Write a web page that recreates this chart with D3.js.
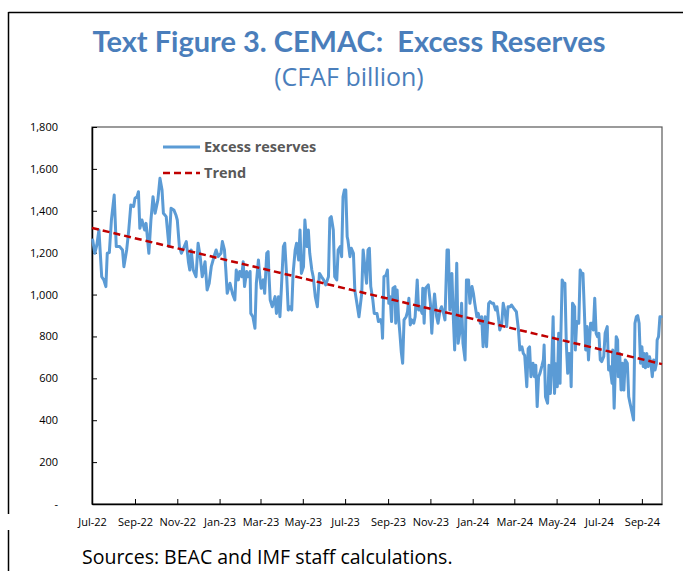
<!DOCTYPE html>
<html>
<head>
<meta charset="utf-8">
<script src="https://cdn.jsdelivr.net/npm/d3@7"></script>
<style>
  html, body { margin: 0; padding: 0; background: #fff; }
  svg { display: block; }
</style>
</head>
<body>
<div id="chart"></div>
<script>
// ---------- Data ----------
const dates = [
"2022-07-02","2022-07-05","2022-07-08","2022-07-11","2022-07-15","2022-07-18","2022-07-21","2022-07-23","2022-07-26","2022-07-29",
"2022-08-02","2022-08-05","2022-08-10","2022-08-14","2022-08-16","2022-08-20","2022-08-23","2022-08-26","2022-08-30","2022-09-01",
"2022-09-04","2022-09-06","2022-09-08","2022-09-11","2022-09-15","2022-09-17","2022-09-21","2022-09-24","2022-09-27","2022-09-30",
"2022-10-04","2022-10-07","2022-10-10","2022-10-12","2022-10-16","2022-10-20","2022-10-23","2022-10-27","2022-10-30","2022-11-01",
"2022-11-04","2022-11-07","2022-11-10","2022-11-14","2022-11-17","2022-11-19","2022-11-21","2022-11-24","2022-11-28","2022-12-01",
"2022-12-04","2022-12-07","2022-12-11","2022-12-14","2022-12-17","2022-12-20","2022-12-24","2022-12-27","2022-12-30","2023-01-03",
"2023-01-05","2023-01-08","2023-01-10","2023-01-12","2023-01-16","2023-01-20","2023-01-23","2023-01-25","2023-01-28","2023-01-30",
"2023-02-02","2023-02-04","2023-02-06","2023-02-09","2023-02-11","2023-02-14","2023-02-15","2023-02-18","2023-02-21","2023-02-23",
"2023-02-26","2023-02-28","2023-03-02","2023-03-05","2023-03-07","2023-03-10","2023-03-12","2023-03-13","2023-03-15","2023-03-18",
"2023-03-22","2023-03-24","2023-03-27","2023-03-29","2023-03-31","2023-04-03","2023-04-05","2023-04-08","2023-04-10","2023-04-12",
"2023-04-15","2023-04-17","2023-04-20","2023-04-22","2023-04-25","2023-04-27","2023-04-29","2023-05-02","2023-05-04","2023-05-07",
"2023-05-09","2023-05-11","2023-05-14","2023-05-16","2023-05-19","2023-05-22","2023-05-25","2023-05-28","2023-05-31","2023-06-03",
"2023-06-07","2023-06-09","2023-06-11","2023-06-14","2023-06-16","2023-06-19","2023-06-21","2023-06-24","2023-06-26","2023-06-28",
"2023-06-30","2023-07-02","2023-07-04","2023-07-05","2023-07-08","2023-07-10","2023-07-13","2023-07-15","2023-07-18","2023-07-21",
"2023-07-25","2023-07-27","2023-07-30","2023-08-01","2023-08-03","2023-08-05","2023-08-07","2023-08-10","2023-08-12","2023-08-16",
"2023-08-18","2023-08-21","2023-08-23","2023-08-24","2023-08-26","2023-08-29","2023-08-31","2023-09-02","2023-09-04","2023-09-06",
"2023-09-08","2023-09-11","2023-09-12","2023-09-14","2023-09-16","2023-09-18","2023-09-20","2023-09-22","2023-09-24","2023-09-27",
"2023-09-29","2023-10-01","2023-10-03","2023-10-05","2023-10-08","2023-10-10","2023-10-13","2023-10-15","2023-10-17","2023-10-20",
"2023-10-21","2023-10-23","2023-10-25","2023-10-27","2023-10-29","2023-11-01","2023-11-03","2023-11-05","2023-11-07","2023-11-10",
"2023-11-12","2023-11-15","2023-11-17","2023-11-20","2023-11-22","2023-11-25","2023-11-27","2023-11-29","2023-12-02","2023-12-04",
"2023-12-06","2023-12-09","2023-12-11","2023-12-14","2023-12-16","2023-12-18","2023-12-21","2023-12-23","2023-12-26","2023-12-28",
"2023-12-31","2024-01-02","2024-01-04","2024-01-07","2024-01-09","2024-01-12","2024-01-14","2024-01-16","2024-01-19","2024-01-21",
"2024-01-24","2024-01-26","2024-01-29","2024-01-31","2024-02-03","2024-02-05","2024-02-07","2024-02-09","2024-02-12","2024-02-14",
"2024-02-17","2024-02-19","2024-02-21","2024-02-24","2024-02-26","2024-02-29","2024-03-04","2024-03-07","2024-03-09","2024-03-12",
"2024-03-14","2024-03-16","2024-03-19","2024-03-21","2024-03-23","2024-03-25","2024-03-28","2024-03-30","2024-04-01","2024-04-03",
"2024-04-05","2024-04-07","2024-04-10","2024-04-12","2024-04-13","2024-04-15","2024-04-18","2024-04-20","2024-04-22","2024-04-24",
"2024-04-26","2024-04-28","2024-04-30","2024-05-02","2024-05-04","2024-05-06","2024-05-07","2024-05-09","2024-05-11","2024-05-13",
"2024-05-15","2024-05-17","2024-05-19","2024-05-21","2024-05-22","2024-05-24","2024-05-27","2024-05-28","2024-05-30","2024-06-02",
"2024-06-04","2024-06-06","2024-06-08","2024-06-10","2024-06-12","2024-06-14","2024-06-16","2024-06-19","2024-06-21","2024-06-23",
"2024-06-25","2024-06-27","2024-06-29","2024-07-01","2024-07-03","2024-07-05","2024-07-08","2024-07-10","2024-07-13","2024-07-15",
"2024-07-17","2024-07-20","2024-07-21","2024-07-23","2024-07-26","2024-07-28","2024-07-29","2024-07-31","2024-08-02","2024-08-04",
"2024-08-06","2024-08-08","2024-08-11","2024-08-13","2024-08-15","2024-08-18","2024-08-20","2024-08-22","2024-08-24","2024-08-26",
"2024-08-28","2024-08-30","2024-09-01","2024-09-03","2024-09-04","2024-09-06","2024-09-08","2024-09-10","2024-09-12","2024-09-14",
"2024-09-16","2024-09-18","2024-09-20","2024-09-22","2024-09-23","2024-09-25","2024-09-27","2024-09-29"
];
const excessReserves = [
1261,1197,1237,1308,1085,1070,1038,1197,1200,1356,
1475,1229,1229,1213,1133,1213,1308,1428,1420,1460,
1467,1491,1316,1356,1308,1340,1197,1356,1467,1388,
1452,1555,1499,1388,1372,1229,1412,1404,1380,1356,
1229,1197,1221,1253,1157,1117,1213,1117,1085,1245,
1181,1085,1157,1022,1054,1133,1181,1213,1181,1197,
1253,1213,1117,1006,1054,1000,974,1117,1070,1110,
1085,1157,1038,1110,1085,1110,910,894,839,1054,
1165,1085,1030,1070,1006,1197,1205,1110,974,942,
990,910,990,894,1022,1229,1245,1070,926,942,
926,1101,1213,1245,1165,1308,1101,1133,1356,1229,
1308,1197,1117,1085,990,942,1101,1085,1070,1046,
1085,1364,1372,1308,1085,1070,1213,1229,1181,1467,
1499,1499,1276,1261,1181,1221,1197,1022,958,894,
1006,1213,1117,1054,1213,1221,1038,974,910,910,
871,880,855,791,1085,1093,1117,958,990,871,
1030,1038,863,1022,894,815,727,672,879,894,
918,982,855,879,863,894,1070,926,942,910,
1030,863,1030,1038,1046,958,815,926,1003,894,
863,926,942,910,879,1213,1213,926,1101,894,
735,1149,767,831,958,767,688,1070,1070,958,
1038,1006,958,894,910,863,894,751,894,751,
958,966,958,958,926,942,894,831,863,958,
910,847,942,942,950,935,918,831,735,751,
719,710,560,742,750,608,672,608,662,465,
608,624,662,690,759,512,481,662,528,670,
894,528,670,560,815,576,783,1070,1054,1054,
767,624,719,672,560,958,942,735,871,863,
1117,1101,1101,926,735,847,688,863,863,831,
982,815,799,815,688,680,704,815,847,640,
656,576,735,457,799,783,608,719,544,672,
544,688,672,512,480,433,401,863,894,899,
863,672,751,656,719,650,719,656,703,672,
608,688,640,672,783,799,894,894
];
const trendDates = ["2022-07-01", "2024-09-30"];
const trendValues = [1318, 668];

const xDomain = ["2022-07-01", "2024-09-30"];
const xTickDates = ["2022-07-01","2022-09-01","2022-11-01","2023-01-01","2023-03-01","2023-05-01","2023-07-01",
                    "2023-09-01","2023-11-01","2024-01-01","2024-03-01","2024-05-01","2024-07-01","2024-09-01"];
const xTickLabels = ["Jul-22","Sep-22","Nov-22","Jan-23","Mar-23","May-23","Jul-23",
                     "Sep-23","Nov-23","Jan-24","Mar-24","May-24","Jul-24","Sep-24"];
const yTicks = [0, 200, 400, 600, 800, 1000, 1200, 1400, 1600, 1800];

const titleText = "Text Figure 3. CEMAC:  Excess Reserves";
const subtitleText = "(CFAF billion)";
const sourceText = "Sources: BEAC and IMF staff calculations.";
const seriesNames = ["Excess reserves", "Trend"];

// ---------- Drawing ----------
const W = 683, H = 571;
const OPEN = "'Open Sans', Lato, 'DejaVu Sans', sans-serif";
const LATO = "Lato, 'Open Sans', 'DejaVu Sans', sans-serif";
const parse = d3.timeParse("%Y-%m-%d");
const svg = d3.select("#chart").append("svg").attr("width", W).attr("height", H)
  .style("font-family", OPEN);

const plot = { left: 92, right: 662, top: 127, bottom: 504 };
const x = d3.scaleTime().domain(xDomain.map(parse)).range([plot.left, plot.right]);
const y = d3.scaleLinear().domain([0, 1800]).range([plot.bottom, plot.top]);

// outer frame lines
svg.append("line").attr("x1", 8.5).attr("x2", W).attr("y1", 12.5).attr("y2", 12.5)
  .attr("stroke", "#000").attr("stroke-width", 1.5);
svg.append("line").attr("x1", 8.5).attr("x2", 8.5).attr("y1", 12).attr("y2", 514)
  .attr("stroke", "#000").attr("stroke-width", 1.5);
svg.append("line").attr("x1", 8.5).attr("x2", 8.5).attr("y1", 530).attr("y2", H)
  .attr("stroke", "#000").attr("stroke-width", 1.5);

// titles
const titleColor = "#4A7EBB";
svg.append("text").attr("x", 349).attr("y", 52).attr("text-anchor", "middle")
  .style("font-family", LATO).style("font-size", "29px").style("font-weight", "bold")
  .attr("fill", titleColor).style("white-space", "pre").text(titleText);
svg.append("text").attr("x", 349).attr("y", 86).attr("text-anchor", "middle")
  .style("font-family", OPEN).style("font-size", "25px").attr("fill", titleColor).text(subtitleText);

// plot frame
svg.append("rect").attr("x", plot.left).attr("y", plot.top)
  .attr("width", plot.right - plot.left).attr("height", plot.bottom - plot.top)
  .attr("fill", "none").attr("stroke", "#595959").attr("stroke-width", 1.2);

// y axis
const yAxis = d3.axisLeft(y).tickValues(yTicks).tickSize(-5).tickSizeOuter(0).tickPadding(34)
  .tickFormat(d => d === 0 ? "-" : d3.format(",")(d));
const gy = svg.append("g").attr("transform", `translate(${plot.left},0)`).call(yAxis);
gy.attr("font-family", null).attr("font-size", null);
gy.select(".domain").attr("stroke", "#000").attr("stroke-width", 1.5);
gy.selectAll(".tick line").attr("stroke", "#000");
gy.selectAll(".tick text").style("font-size", "11px").style("font-family", OPEN).attr("fill", "#000");

// x axis
const xAxis = d3.axisBottom(x).tickValues(xTickDates.map(parse)).tickSize(-5).tickSizeOuter(0).tickPadding(14)
  .tickFormat((d, i) => xTickLabels[i]);
const gx = svg.append("g").attr("transform", `translate(0,${plot.bottom})`).call(xAxis);
gx.attr("font-family", null).attr("font-size", null);
gx.select(".domain").attr("stroke", "#000").attr("stroke-width", 1.5);
gx.selectAll(".tick line").attr("stroke", "#000");
gx.selectAll(".tick text").style("font-size", "11px").style("font-family", OPEN).attr("fill", "#000");

// series line
const series = dates.map((d, i) => ({ date: parse(d), value: excessReserves[i] }));
const line = d3.line().x(d => x(d.date)).y(d => y(d.value));
svg.append("path").datum(series).attr("d", line)
  .attr("fill", "none").attr("stroke", "#5B9BD5").attr("stroke-width", 3)
  .attr("stroke-linejoin", "round").attr("stroke-linecap", "round");

// trend line
const trend = trendDates.map((d, i) => ({ date: parse(d), value: trendValues[i] }));
svg.append("path").datum(trend).attr("d", line)
  .attr("fill", "none").attr("stroke", "#C00000").attr("stroke-width", 2.5)
  .attr("stroke-dasharray", "7,4");

// legend
const legend = svg.append("g");
legend.append("line").attr("x1", 163).attr("x2", 200).attr("y1", 147).attr("y2", 147)
  .attr("stroke", "#5B9BD5").attr("stroke-width", 3);
legend.append("line").attr("x1", 163).attr("x2", 200).attr("y1", 173).attr("y2", 173)
  .attr("stroke", "#C00000").attr("stroke-width", 2.5).attr("stroke-dasharray", "7,4");
legend.append("text").attr("x", 204).attr("y", 152).style("font-size", "14.5px").style("font-weight", "bold")
  .attr("fill", "#595959").text(seriesNames[0]);
legend.append("text").attr("x", 204).attr("y", 178).style("font-size", "14.5px").style("font-weight", "bold")
  .attr("fill", "#595959").text(seriesNames[1]);

// source note
svg.append("text").attr("x", 82).attr("y", 564).style("font-size", "19.5px").attr("fill", "#000")
  .text(sourceText);
</script>
</body>
</html>
